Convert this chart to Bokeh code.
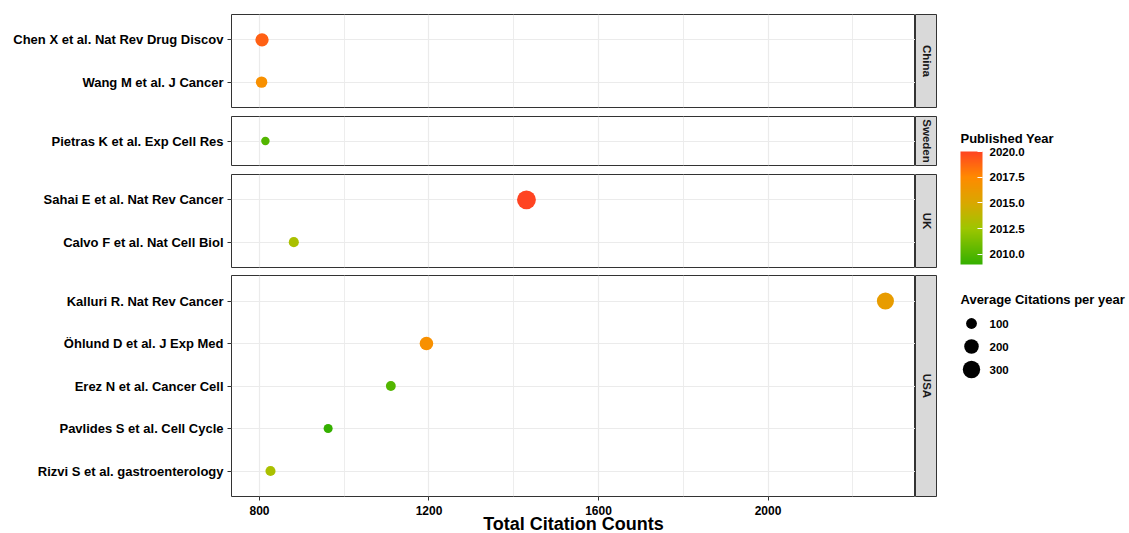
import math
from bokeh.plotting import figure
from bokeh.layouts import row, column
from bokeh.models import (ColumnDataSource, FactorRange, Range1d, LinearColorMapper, ColorBar,
                          FixedTicker, Label, Grid, PrintfTickFormatter)
from bokeh.transform import transform
from bokeh.core.properties import value
from bokeh.embed import file_html
from bokeh.resources import INLINE

# ---------------- data ----------------
countries = ["China", "China", "Sweden", "UK", "UK", "USA", "USA", "USA", "USA", "USA"]
papers = ["Chen X et al. Nat Rev Drug Discov", "Wang M et al. J Cancer",
          "Pietras K et al. Exp Cell Res", "Sahai E et al. Nat Rev Cancer",
          "Calvo F et al. Nat Cell Biol", "Kalluri R. Nat Rev Cancer",
          "Öhlund D et al. J Exp Med", "Erez N et al. Cancer Cell",
          "Pavlides S et al. Cell Cycle", "Rizvi S et al. gastroenterology"]
total_citations = [806, 805, 814, 1430, 881, 2277, 1194, 1110, 962, 826]
published_year = [2019, 2017, 2010, 2020, 2013, 2016, 2017, 2010, 2009, 2013]
avg_citations = [165, 115, 55, 360, 85, 290, 170, 80, 65, 85]

facet_order = ["China", "Sweden", "UK", "USA"]
x_ticks = [800, 1200, 1600, 2000]
x_minor_ticks = [1000, 1400, 1800, 2200]
year_ticks = [2010.0, 2012.5, 2015.0, 2017.5, 2020.0]
size_breaks = [100, 200, 300]

# ---------------- styles ----------------
FONT = "Liberation Sans"
BORDER = "#333333"
GRID = "#ebebeb"


def dot_size(v):
    return 1.8 + 0.9 * math.sqrt(v)


def hex_rgb(h):
    h = h.lstrip("#")
    return tuple(int(h[i:i + 2], 16) for i in (0, 2, 4))


grad_stops = [(0.0, "#35b000"), (0.318, "#9ec600"), (0.545, "#d9a800"),
              (0.773, "#ff8a00"), (1.0, "#ff4422")]
palette = []
for k in range(256):
    t = k / 255
    for (t0, c0), (t1, c1) in zip(grad_stops[:-1], grad_stops[1:]):
        if t0 <= t <= t1:
            f = (t - t0) / (t1 - t0)
            a, b = hex_rgb(c0), hex_rgb(c1)
            palette.append("#%02x%02x%02x" % tuple(round(a[j] + (b[j] - a[j]) * f) for j in range(3)))
            break

mapper = LinearColorMapper(palette=palette, low=min(published_year), high=max(published_year))
x_range = Range1d(734, 2348)

frame_h = {"China": 93, "Sweden": 49, "UK": 93, "USA": 221}
border_tb = {"China": (14, 4), "Sweden": (5, 4), "UK": (5, 4), "USA": (4, 36)}

rows = []
for c in facet_order:
    idx = [i for i, cc in enumerate(countries) if cc == c]
    fp = [papers[i] for i in idx]
    src = ColumnDataSource(dict(
        paper=fp,
        total=[total_citations[i] for i in idx],
        year=[published_year[i] for i in idx],
        dsize=[dot_size(avg_citations[i]) for i in idx],
    ))
    bottom = (c == facet_order[-1])
    bt, bb = border_tb[c]
    p = figure(frame_width=684, frame_height=frame_h[c], x_range=x_range,
               y_range=FactorRange(factors=fp[::-1], range_padding=0.1, range_padding_units="absolute"),
               x_axis_location="below" if bottom else None,
               output_backend="svg", toolbar_location=None,
               min_border_left=231, min_border_right=0, min_border_top=bt, min_border_bottom=bb)
    p.xgrid.visible = False
    p.add_layout(Grid(dimension=0, ticker=FixedTicker(ticks=x_ticks, minor_ticks=x_minor_ticks),
                      grid_line_color=GRID, grid_line_width=1.2,
                      minor_grid_line_color=GRID, minor_grid_line_width=0.9))
    p.ygrid.grid_line_color = GRID
    p.ygrid.grid_line_width = 1.2
    p.outline_line_color = BORDER
    p.outline_line_width = 1
    p.background_fill_color = "white"

    ya = p.yaxis[0]
    ya.axis_line_color = None
    ya.major_tick_line_color = BORDER
    ya.major_tick_out = 4
    ya.major_tick_in = 0
    ya.major_label_standoff = 4
    ya.major_label_text_font = FONT
    ya.major_label_text_font_style = "bold"
    ya.major_label_text_font_size = "13px"
    ya.major_label_text_color = "black"

    if bottom:
        xa = p.xaxis[0]
        xa.ticker = FixedTicker(ticks=x_ticks)
        xa.axis_line_color = None
        xa.major_tick_line_color = BORDER
        xa.major_tick_out = 4
        xa.major_tick_in = 0
        xa.minor_tick_line_color = None
        xa.major_label_standoff = 5
        xa.major_label_text_font = FONT
        xa.major_label_text_font_style = "bold"
        xa.major_label_text_font_size = "12px"
        xa.major_label_text_color = "black"
        xa.axis_label = "Total Citation Counts"
        xa.axis_label_standoff = -4
        xa.axis_label_text_font = FONT
        xa.axis_label_text_font_style = "bold"
        xa.axis_label_text_font_size = "18px"
        xa.axis_label_text_color = "black"

    p.scatter(x="total", y="paper", size="dsize", source=src,
              fill_color=transform("year", mapper), line_color=None)

    s = figure(frame_width=22, frame_height=frame_h[c], x_range=Range1d(0, 1), y_range=Range1d(0, 1),
               x_axis_location=None, y_axis_location=None,
               output_backend="svg", toolbar_location=None,
               min_border_left=0, min_border_right=0, min_border_top=bt, min_border_bottom=bb)
    s.grid.visible = False
    s.background_fill_color = "#d9d9d9"
    s.outline_line_color = BORDER
    s.add_layout(Label(x=0.5, y=0.5, text=c, angle=-math.pi / 2, text_align="center",
                       text_baseline="middle", text_font=FONT, text_font_style="bold",
                       text_font_size="11.5px", text_color="#1a1a1a"))
    rows.append(row(p, s))

# ---------------- legends ----------------
LW, LH = 192, 532
leg = figure(frame_width=LW, frame_height=LH, x_range=Range1d(0, LW), y_range=Range1d(LH, 0),
             x_axis_location=None, y_axis_location=None,
             output_backend="svg", toolbar_location=None,
             min_border_left=0, min_border_right=0, min_border_top=0, min_border_bottom=0)
leg.grid.visible = False
leg.outline_line_color = None

leg_x0 = 23
leg.add_layout(Label(x=leg_x0, y=138, text="Published Year",
                     text_baseline="middle", text_font=FONT, text_font_style="bold",
                     text_font_size="13px", text_color="black"))
cb = ColorBar(color_mapper=mapper, ticker=FixedTicker(ticks=year_ticks),
              formatter=PrintfTickFormatter(format="%.1f"),
              orientation="vertical", width=22, height=113, padding=0, margin=0,
              major_label_text_font=FONT, major_label_text_font_style="bold",
              major_label_text_font_size="11.5px", major_label_text_color="black",
              label_standoff=7, major_tick_line_color="white", major_tick_in=5, major_tick_out=0,
              minor_tick_line_color=None, bar_line_color=None,
              background_fill_color=None, border_line_color=None,
              location=(leg_x0, LH - 264))
leg.add_layout(cb)

leg_title_y, leg_y0, leg_dy = 299, 323, 23
leg.add_layout(Label(x=leg_x0, y=leg_title_y, text="Average Citations per year",
                     text_baseline="middle", text_font=FONT, text_font_style="bold",
                     text_font_size="13px", text_color="black"))
ys = [leg_y0 + k * leg_dy for k in range(len(size_breaks))]
leg.scatter(x=[leg_x0 + 11] * len(size_breaks), y=ys, size=[dot_size(v) for v in size_breaks],
            fill_color="black", line_color=None)
leg.text(x=[leg_x0 + 29] * len(size_breaks), y=ys, text=[str(v) for v in size_breaks],
         text_baseline="middle", text_font=value(FONT), text_font_style="bold",
         text_font_size="11.5px", text_color="black")

layout = row(column(*rows), leg)

with open("out.html", "w") as f:
    f.write(file_html(layout, INLINE))
